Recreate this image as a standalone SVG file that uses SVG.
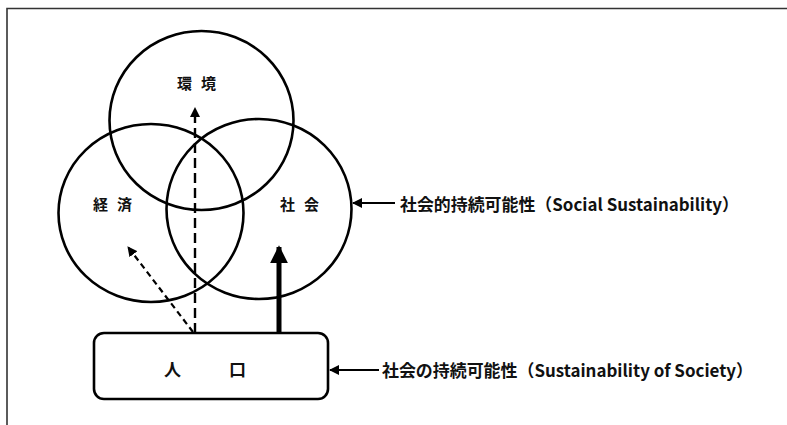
<svg xmlns="http://www.w3.org/2000/svg" width="787" height="425" viewBox="0 0 787 425">
<defs>
<style>
.c{fill:none;stroke:#000;stroke-width:2.6}
.t{font-family:"Noto Sans CJK JP","Noto Sans",sans-serif;font-weight:bold;fill:#111;text-anchor:middle;dominant-baseline:central}
.lb{font-family:"Noto Sans CJK JP","Noto Sans",sans-serif;font-weight:bold;fill:#111;font-size:17px;dominant-baseline:central}
</style>
<marker id="ah" viewBox="0 0 10 10" refX="9" refY="5" markerWidth="10" markerHeight="10" markerUnits="userSpaceOnUse" orient="auto">
<path d="M0,0 L10,5 L0,10 Z" fill="#000"/>
</marker>
<marker id="ahb" viewBox="0 0 10 10" refX="9" refY="5" markerWidth="18" markerHeight="18" markerUnits="userSpaceOnUse" orient="auto">
<path d="M0,0 L10,5 L0,10 Z" fill="#000"/>
</marker>
</defs>
<rect width="787" height="425" fill="#fff"/>
<path d="M7,425 V8.5 H787" fill="none" stroke="#333" stroke-width="1.6"/>
<g id="kankyo"><ellipse class="c" cx="201.5" cy="120.5" rx="92" ry="89.5"/><text class="t" x="201" y="82" font-size="15" letter-spacing="9">環境</text></g>
<g id="keizai"><ellipse class="c" cx="151" cy="213" rx="92.5" ry="89"/><text class="t" x="117" y="203" font-size="15" letter-spacing="9">経済</text></g>
<g id="shakai"><ellipse class="c" cx="259" cy="209" rx="92.5" ry="90"/><text class="t" x="304" y="203" font-size="15" letter-spacing="9">社会</text></g>
<g id="jinko"><rect x="94" y="333" width="234" height="66" rx="10" fill="#fff" stroke="#000" stroke-width="2.6"/><text class="t" x="229" y="368" font-size="17" letter-spacing="48">人口</text></g>
<g id="connectors">
<line x1="195" y1="333" x2="195" y2="108" stroke="#000" stroke-width="2.4" stroke-dasharray="10,5" marker-end="url(#ah)"/>
<line x1="193" y1="332" x2="128" y2="247" stroke="#000" stroke-width="2.2" stroke-dasharray="6,4" marker-end="url(#ah)"/>
<line x1="279" y1="332" x2="279" y2="247" stroke="#000" stroke-width="5" marker-end="url(#ahb)"/>
<line x1="395" y1="203" x2="353" y2="203" stroke="#000" stroke-width="2.2" marker-end="url(#ah)"/>
<line x1="379" y1="370" x2="330" y2="370" stroke="#000" stroke-width="2.2" marker-end="url(#ah)"/>
</g>
<g id="labels">
<text class="lb" x="400" y="203" textLength="339" lengthAdjust="spacingAndGlyphs">社会的持続可能性（Social Sustainability）</text>
<text class="lb" x="382" y="369" textLength="371" lengthAdjust="spacingAndGlyphs">社会の持続可能性（Sustainability of Society）</text>
</g>
</svg>
